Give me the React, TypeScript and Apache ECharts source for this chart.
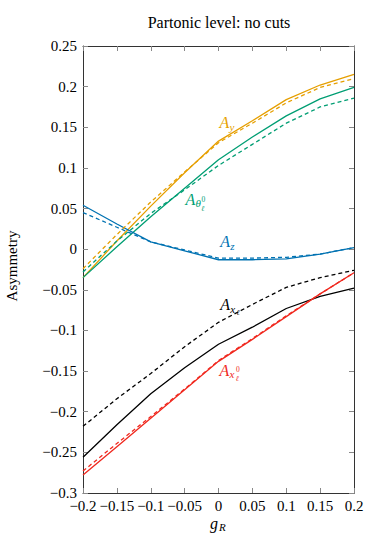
import React, { useEffect, useRef } from "react";
import * as echarts from "echarts";

const gR = [-0.2, -0.15, -0.1, -0.05, 0, 0.05, 0.1, 0.15, 0.2];

const AySolid = [-0.035, 0.010, 0.053, 0.094, 0.133, 0.158, 0.184, 0.202, 0.215];
const AyDashed = [-0.024, 0.018, 0.058, 0.095, 0.131, 0.155, 0.180, 0.199, 0.210];
const AthSolid = [-0.035, 0.003, 0.040, 0.075, 0.110, 0.138, 0.164, 0.185, 0.199];
const AthDashed = [-0.028, 0.010, 0.044, 0.073, 0.103, 0.129, 0.155, 0.175, 0.186];
const AzSolid = [0.054, 0.031, 0.009, -0.002, -0.013, -0.013, -0.012, -0.006, 0.002];
const AzDashed = [0.045, 0.027, 0.009, -0.001, -0.011, -0.011, -0.010, -0.006, 0.002];
const AxlSolid = [-0.256, -0.216, -0.178, -0.146, -0.117, -0.096, -0.073, -0.058, -0.048];
const AxlDashed = [-0.218, -0.184, -0.153, -0.120, -0.090, -0.068, -0.047, -0.035, -0.026];
const Axl0Solid = [-0.278, -0.243, -0.208, -0.173, -0.138, -0.111, -0.083, -0.055, -0.029];
const Axl0Dashed = [-0.273, -0.239, -0.206, -0.172, -0.137, -0.110, -0.082, -0.055, -0.029];

const ORANGE = "#E69F00";
const GREEN = "#009E73";
const BLUE = "#0072B2";
const BLACK = "#000000";
const RED = "#F0281E";

const FONT = "Liberation Serif";

type Part = { text: string; dx: number; dy: number; size: number; italic?: boolean };

const labels: { color: string; at: [number, number]; parts: Part[] }[] = [
  {
    color: ORANGE,
    at: [0.0015, 0.156],
    parts: [
      { text: "A", dx: 0, dy: 0, size: 16, italic: true },
      { text: "y", dx: 10, dy: 5, size: 11, italic: true },
    ],
  },
  {
    color: GREEN,
    at: [-0.0488, 0.0617],
    parts: [
      { text: "A", dx: 0, dy: 0, size: 16, italic: true },
      { text: "θ", dx: 10, dy: 3.5, size: 11, italic: true },
      { text: "0", dx: 16, dy: 0, size: 7.5 },
      { text: "ℓ", dx: 15.5, dy: 9, size: 7.5, italic: true },
    ],
  },
  {
    color: BLUE,
    at: [0.0025, 0.0092],
    parts: [
      { text: "A", dx: 0, dy: 0, size: 16, italic: true },
      { text: "z", dx: 10, dy: 4, size: 11, italic: true },
    ],
  },
  {
    color: BLACK,
    at: [0.0025, -0.0678],
    parts: [
      { text: "A", dx: 0, dy: 0, size: 16, italic: true },
      { text: "x", dx: 10, dy: 4.5, size: 11, italic: true },
      { text: "ℓ", dx: 16, dy: 8, size: 7.5, italic: true },
    ],
  },
  {
    color: RED,
    at: [0.0015, -0.1487],
    parts: [
      { text: "A", dx: 0, dy: 0, size: 16, italic: true },
      { text: "x", dx: 10, dy: 4, size: 11, italic: true },
      { text: "0", dx: 16.5, dy: -0.5, size: 7.5 },
      { text: "ℓ", dx: 16, dy: 8.5, size: 7.5, italic: true },
    ],
  },
];

function fmt(v: number): string {
  const r = Math.round(v * 100) / 100;
  let s = String(r);
  if (Math.abs(r) < 1e-9) s = "0";
  return s.replace("-", "\u2212");
}

export default function App() {
  const ref = useRef<HTMLDivElement>(null);
  useEffect(() => {
    document.body.style.margin = "0";
    const chart = echarts.init(ref.current!, null, { renderer: "svg" });
    const mk = (name: string, d: number[], color: string, dashed: boolean) => ({
      name,
      type: "line",
      data: gR.map((x, i) => [x, d[i]]),
      showSymbol: false,
      symbol: "none",
      lineStyle: { color, width: 1.3, type: dashed ? [4, 3] : "solid" },
      z: dashed ? 3 : 2,
    });
    const axisCommon = {
      type: "value",
      splitLine: { show: false },
      axisLine: { show: true, onZero: false, lineStyle: { color: "#333", width: 1 } },
      axisTick: { show: true, inside: true, length: 5, lineStyle: { color: "#888" } },
    };
    chart.setOption({
      animation: false,
      textStyle: { fontFamily: FONT },
      grid: { left: 83, right: 28, top: 46, bottom: 51, containLabel: false },
      xAxis: [
        {
          ...axisCommon,
          min: -0.2,
          max: 0.2,
          interval: 0.05,
          position: "bottom",
          axisLabel: { formatter: fmt, fontFamily: FONT, fontSize: 15, color: "#000", margin: 6, lineHeight: 14 },
        },
        {
          ...axisCommon,
          min: -0.2,
          max: 0.2,
          interval: 0.05,
          position: "top",
          axisLabel: { show: false },
        },
      ],
      yAxis: [
        {
          ...axisCommon,
          min: -0.3,
          max: 0.25,
          interval: 0.05,
          position: "left",
          axisLabel: { formatter: fmt, fontFamily: FONT, fontSize: 15, color: "#000", margin: 6 },
        },
        {
          ...axisCommon,
          min: -0.3,
          max: 0.25,
          interval: 0.05,
          position: "right",
          axisLabel: { show: false },
        },
      ],
      series: [
        mk("Ay", AySolid, ORANGE, false),
        mk("Ay dashed", AyDashed, ORANGE, true),
        mk("Ath", AthSolid, GREEN, false),
        mk("Ath dashed", AthDashed, GREEN, true),
        mk("Az", AzSolid, BLUE, false),
        mk("Az dashed", AzDashed, BLUE, true),
        mk("Axl", AxlSolid, BLACK, false),
        mk("Axl dashed", AxlDashed, BLACK, true),
        mk("Axl0", Axl0Solid, RED, false),
        mk("Axl0 dashed", Axl0Dashed, RED, true),
      ],
    });

    const graphics: any[] = [];
    labels.forEach((l) => {
      const p = chart.convertToPixel({ gridIndex: 0 }, l.at) as number[];
      l.parts.forEach((pt) => {
        graphics.push({
          type: "text",
          x: p[0] + pt.dx,
          y: p[1] + pt.dy,
          z: 10,
          style: {
            text: pt.text,
            fill: l.color,
            fontFamily: FONT,
            fontSize: pt.size,
            fontStyle: pt.italic ? "italic" : "normal",
            textAlign: "left",
            textVerticalAlign: "middle",
          },
        });
      });
    });
    graphics.push({
      type: "text",
      x: 219,
      y: 22.5,
      style: {
        text: "Partonic level: no cuts",
        fill: "#000",
        fontFamily: FONT,
        fontSize: 16,
        textAlign: "center",
        textVerticalAlign: "middle",
      },
    });
    graphics.push({
      type: "text",
      x: 214,
      y: 523,
      style: {
        text: "g",
        fill: "#000",
        fontFamily: FONT,
        fontSize: 16,
        fontStyle: "italic",
        textAlign: "center",
        textVerticalAlign: "middle",
      },
    });
    graphics.push({
      type: "text",
      x: 219,
      y: 527,
      style: {
        text: "R",
        fill: "#000",
        fontFamily: FONT,
        fontSize: 11,
        fontStyle: "italic",
        textAlign: "left",
        textVerticalAlign: "middle",
      },
    });
    graphics.push({
      type: "text",
      x: 12,
      y: 266,
      rotation: Math.PI / 2,
      style: {
        text: "Asymmetry",
        fill: "#000",
        fontFamily: FONT,
        fontSize: 15,
        textAlign: "center",
        textVerticalAlign: "middle",
      },
    });
    chart.setOption({ graphic: graphics });

    return () => chart.dispose();
  }, []);
  return <div ref={ref} style={{ width: 382, height: 544 }} />;
}
